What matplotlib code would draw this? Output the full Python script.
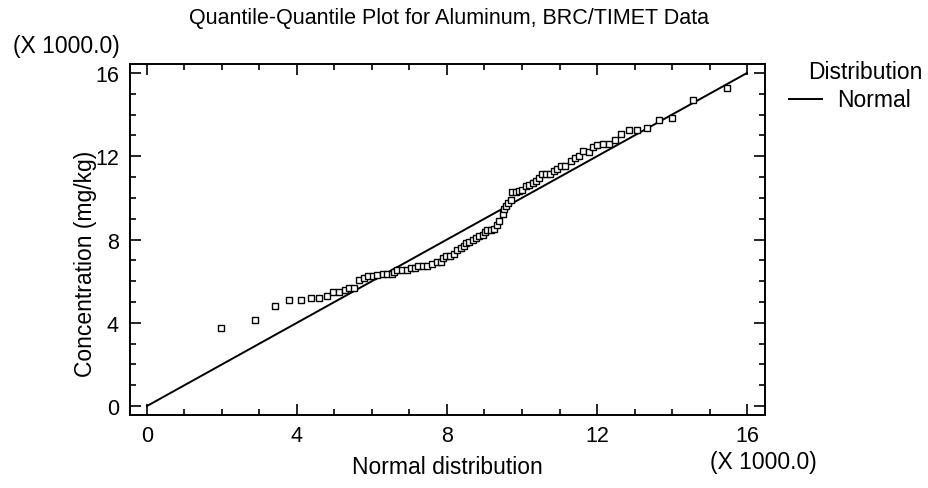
import matplotlib
matplotlib.use('Agg')
import numpy as np
from matplotlib import pyplot as plt
from matplotlib.ticker import MultipleLocator

# Квантили нормального распределения (X 1000.0)
normal_q = [1.965, 2.88, 3.41, 3.79, 4.11, 4.37, 4.59, 4.80, 4.95, 5.12,
            5.28, 5.39, 5.52, 5.66, 5.79, 5.90, 6.03, 6.14, 6.29, 6.41,
            6.53, 6.59, 6.67, 6.79, 6.93, 7.03, 7.14, 7.23, 7.35, 7.47,
            7.59, 7.73, 7.83, 7.89, 7.97, 8.08, 8.19, 8.26, 8.37, 8.45,
            8.51, 8.59, 8.69, 8.77, 8.86, 8.95, 9.02, 9.07, 9.17, 9.25,
            9.33, 9.39, 9.49, 9.53, 9.57, 9.63, 9.71, 9.74, 9.83, 9.92,
            10.01, 10.11, 10.19, 10.29, 10.37, 10.46, 10.54, 10.64, 10.75, 10.85,
            10.93, 11.03, 11.15, 11.30, 11.41, 11.53, 11.62, 11.79, 11.90, 12.01,
            12.15, 12.32, 12.48, 12.63, 12.86, 13.07, 13.34, 13.65, 14.01, 14.57,
            15.47]

# Концентрация алюминия, mg/kg (X 1000.0)
concentration = [3.75, 4.15, 4.82, 5.11, 5.09, 5.20, 5.20, 5.30, 5.49, 5.49,
                 5.59, 5.69, 5.68, 6.07, 6.17, 6.23, 6.26, 6.29, 6.36, 6.36,
                 6.33, 6.45, 6.52, 6.54, 6.55, 6.62, 6.65, 6.71, 6.74, 6.74,
                 6.81, 6.91, 6.91, 7.13, 7.22, 7.22, 7.29, 7.51, 7.61, 7.67,
                 7.83, 7.90, 7.98, 8.06, 8.15, 8.22, 8.35, 8.44, 8.47, 8.51,
                 8.70, 8.90, 9.23, 9.47, 9.63, 9.74, 9.91, 10.30, 10.30, 10.33,
                 10.39, 10.56, 10.62, 10.72, 10.81, 10.94, 11.13, 11.17, 11.16, 11.29,
                 11.39, 11.55, 11.55, 11.77, 11.90, 12.03, 12.25, 12.22, 12.43, 12.54,
                 12.60, 12.60, 12.80, 13.09, 13.28, 13.28, 13.37, 13.76, 13.85, 14.72,
                 15.30]

# Линия нормального распределения
ref_line = [0, 16]

plt.rcParams['font.family'] = ['Liberation Sans', 'DejaVu Sans']
fs = 16.5

fig = plt.figure(figsize=(9.29, 4.89), dpi=100)
ax = fig.add_axes([0.140, 0.1493, 0.6835, 0.7177])

ax.plot(ref_line, ref_line, color='black', lw=1.4, label='Normal')
ax.plot(normal_q, concentration, ls='none', marker='s', ms=3.8,
        mfc='white', mec='black', mew=1.0)

ax.set_xlim(-0.45, 16.48)
ax.set_ylim(-0.43, 16.43)
ax.xaxis.set_major_locator(MultipleLocator(4))
ax.yaxis.set_major_locator(MultipleLocator(4))
ax.xaxis.set_minor_locator(MultipleLocator(1))
ax.yaxis.set_minor_locator(MultipleLocator(1))
ax.tick_params(which='both', direction='in', top=True, right=True,
               width=1.2, colors='black', labelsize=15.5)
ax.tick_params(which='major', length=8)
ax.tick_params(which='minor', length=4.5)
ax.tick_params(axis='y', pad=8)
ax.tick_params(axis='x', pad=7)
for s in ax.spines.values():
    s.set_linewidth(1.4)

# Подписи осей и заголовок
fig.text(0.482, 0.043, 'Normal distribution', ha='center', va='center', fontsize=fs)
fig.text(0.092, 0.46, 'Concentration (mg/kg)', ha='center', va='center',
         rotation=90, fontsize=16.5)
fig.text(0.483, 0.963, 'Quantile-Quantile Plot for Aluminum, BRC/TIMET Data',
         ha='center', va='center', fontsize=15.5)
fig.text(0.071, 0.904, '(X 1000.0)', ha='center', va='center', fontsize=fs)
fig.text(0.822, 0.055, '(X 1000.0)', ha='center', va='center', fontsize=fs)

# Легенда
fig.text(0.931, 0.851, 'Distribution', ha='center', va='center', fontsize=fs)
fig.lines.append(plt.Line2D([0.849, 0.885], [0.795, 0.795], color='black',
                            lw=1.4, transform=fig.transFigure))
fig.text(0.901, 0.795, 'Normal', ha='left', va='center', fontsize=fs)

plt.savefig('out.png', dpi=100)
plt.close()
